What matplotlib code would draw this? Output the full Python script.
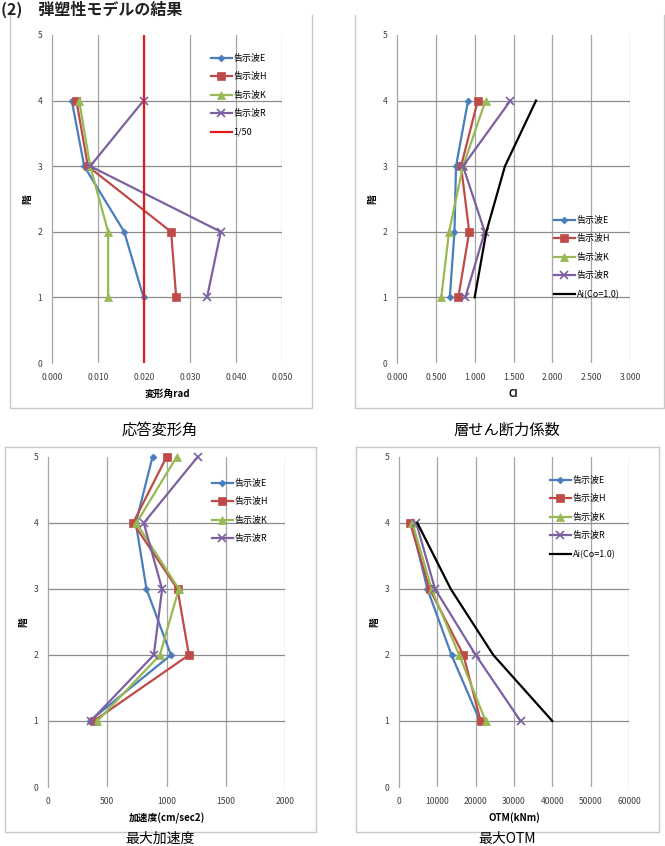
import numpy as np
import matplotlib
matplotlib.use('Agg')
import matplotlib.pyplot as plt
from matplotlib.lines import Line2D

plt.rcParams['font.family'] = ['Noto Sans CJK JP', 'DejaVu Sans']

# data
floors4 = [1, 2, 3, 4]
floors5 = [1, 2, 3, 4, 5]
wave_names = ['告示波E', '告示波H', '告示波K', '告示波R']

# 応答変形角 (rad)
drift_E = [0.0199, 0.0157, 0.0070, 0.0043]
drift_H = [0.0270, 0.0259, 0.0078, 0.0053]
drift_K = [0.0122, 0.0122, 0.0083, 0.0059]
drift_R = [0.0337, 0.0367, 0.0083, 0.0199]
drift_limit = 1 / 50

# 層せん断力係数
ci_E = [0.68, 0.74, 0.76, 0.915]
ci_H = [0.79, 0.93, 0.825, 1.04]
ci_K = [0.57, 0.67, 0.85, 1.14]
ci_R = [0.88, 1.13, 0.85, 1.46]
ci_Ai = [1.00, 1.15, 1.39, 1.79]

# 最大加速度 (cm/sec2)
acc_E = [352, 1037, 831, 741, 882]
acc_H = [386, 1189, 1093, 718, 1000]
acc_K = [417, 944, 1104, 746, 1085]
acc_R = [361, 893, 963, 808, 1262]

# 最大OTM (kNm)
otm_E = [21100, 13700, 7400, 3200]
otm_H = [21300, 16800, 8000, 2900]
otm_K = [22600, 15700, 8500, 3500]
otm_R = [31700, 20000, 9400, 4500]
otm_Ai = [40000, 24600, 13500, 4800]

W, H = 665, 846
fig = plt.figure(figsize=(W / 100, H / 100), dpi=100)

colors = ['#4A7EBB', '#BE4B48', '#98B954', '#7D60A0']
markers = ['D', 's', '^', 'x']
msizes = [3.5, 5.5, 5.5, 5.5]
GRID = '#A6A6A6'
FRAME = '#C8C8C8'


def px_axes(l, t, r, b):
    return fig.add_axes([l / W, 1 - b / H, (r - l) / W, (b - t) / H])


def frame(l, t, r, b, top=True):
    xs = [l / W, l / W, r / W, r / W]
    ys = [1 - t / H, 1 - b / H, 1 - b / H, 1 - t / H]
    fig.add_artist(Line2D(xs, ys, color=FRAME, lw=1.0))
    if top:
        fig.add_artist(Line2D([l / W, r / W], [1 - t / H, 1 - t / H], color=FRAME, lw=1.0))


def style(ax, xticks, xfmt, xlabel):
    ax.set_ylim(0, 5)
    ax.set_yticks(range(6))
    ax.set_xlim(xticks[0], xticks[-1])
    ax.set_xticks(xticks)
    ax.set_xticklabels([xfmt(v) for v in xticks])
    for s in ['top', 'right', 'bottom']:
        ax.spines[s].set_visible(False)
    ax.spines['left'].set_color(GRID)
    ax.spines['left'].set_linewidth(0.9)
    ax.tick_params(length=0, labelsize=6.2, colors='#404040', pad=7)
    for v in xticks[1:]:
        ax.axvline(v, color=GRID, lw=0.9, zorder=0)
    for f in range(1, 5):
        ax.axhline(f, color='#8C8C8C', lw=0.9, zorder=0)
    ax.set_xlabel(xlabel, fontsize=7, fontweight='bold', labelpad=5)
    ax.set_ylabel('階', fontsize=7, fontweight='bold', labelpad=4)
    ax.patch.set_alpha(0)


def plot_waves(ax, ys, series):
    for vals, c, m, ms, name in zip(series, colors, markers, msizes, wave_names):
        ax.plot(vals, ys, color=c, marker=m, markersize=ms, lw=1.6, clip_on=False,
                markeredgewidth=1.2 if m == 'x' else 0.5, label=name)


def legend(ax, left, top):
    ax.legend(loc='upper left', bbox_to_anchor=(left / W, 1 - top / H),
              bbox_transform=fig.transFigure, frameon=False, fontsize=6.5,
              handlelength=2.3, handletextpad=0.2, labelspacing=1.05,
              borderpad=0, borderaxespad=0)


# title
fig.text(1 / W, 1 - 9 / H, '(2)\u3000弾塑性モデルの結果', fontsize=11.5, fontweight='bold',
         va='center', ha='left', color='#222222')

# chart 1
frame(10, 15, 312, 408, top=False)
ax1 = px_axes(52, 35, 282, 363)
plot_waves(ax1, floors4, [drift_E, drift_H, drift_K, drift_R])
ax1.plot([drift_limit, drift_limit], [0, 5], color='#E31A1C', lw=1.6, label='1/50')
style(ax1, [0, 0.01, 0.02, 0.03, 0.04, 0.05], lambda v: f'{v:.3f}', '変形角rad')
legend(ax1, 211, 54)
fig.text(160 / W, 1 - 430 / H, '応答変形角', fontsize=11, ha='center', va='center')

# chart 2
frame(355, 15, 664, 408, top=False)
ax2 = px_axes(397, 35, 630, 363)
plot_waves(ax2, floors4, [ci_E, ci_H, ci_K, ci_R])
ax2.plot(ci_Ai, floors4, color='black', lw=1.6, label='Ai(Co=1.0)')
style(ax2, [0, 0.5, 1.0, 1.5, 2.0, 2.5, 3.0], lambda v: f'{v:.3f}', 'CI')
legend(ax2, 554, 216)
fig.text(507 / W, 1 - 430 / H, '層せん断力係数', fontsize=11, ha='center', va='center')

# chart 3
frame(5, 447, 316, 832)
ax3 = px_axes(48, 457, 285, 787)
plot_waves(ax3, floors5, [acc_E, acc_H, acc_K, acc_R])
style(ax3, [0, 500, 1000, 1500, 2000], lambda v: f'{v:d}', '加速度(cm/sec2)')
legend(ax3, 212, 479)
fig.text(160 / W, 1 - 839 / H, '最大加速度', fontsize=10, ha='center', va='center')

# chart 4
frame(356, 447, 659, 832)
ax4 = px_axes(399, 457, 629, 787)
plot_waves(ax4, floors4, [otm_E, otm_H, otm_K, otm_R])
ax4.plot(otm_Ai, floors4, color='black', lw=1.6, label='Ai(Co=1.0)')
style(ax4, [0, 10000, 20000, 30000, 40000, 50000, 60000], lambda v: f'{v:d}', 'OTM(kNm)')
legend(ax4, 550, 476)
fig.text(507 / W, 1 - 839 / H, '最大OTM', fontsize=10, ha='center', va='center')

fig.savefig('out.png', dpi=100)
